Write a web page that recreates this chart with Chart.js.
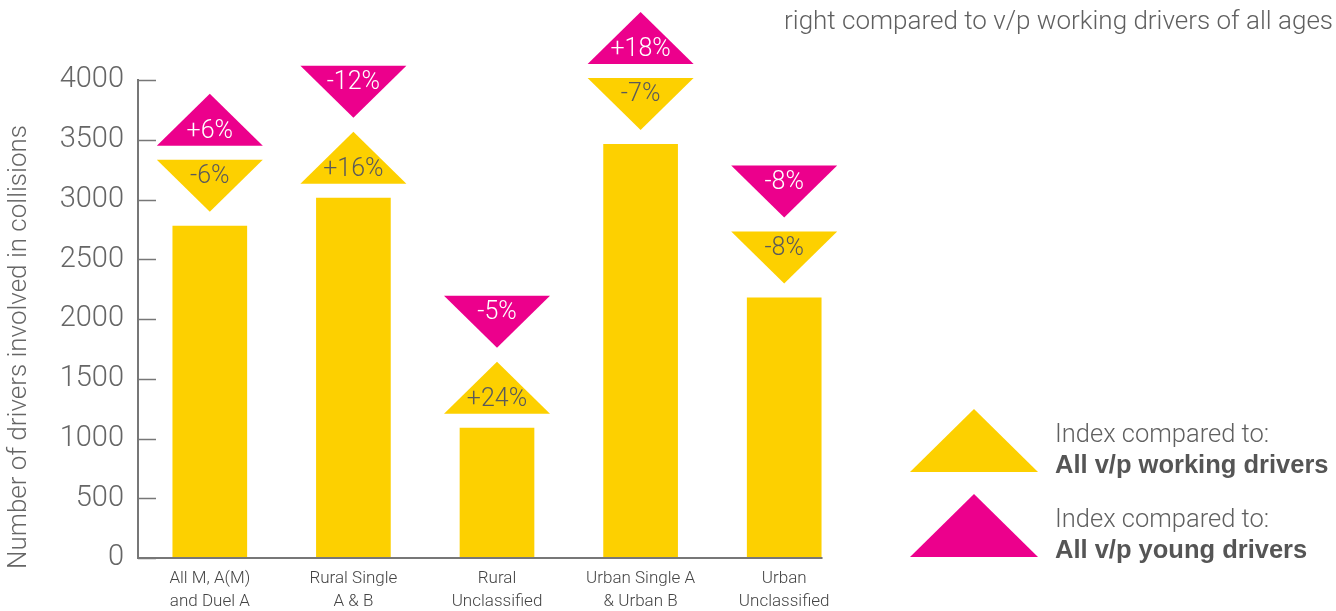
<!DOCTYPE html>
<html>
<head>
<meta charset="utf-8">
<script src="https://cdn.jsdelivr.net/npm/chart.js@4/dist/chart.umd.min.js"></script>
<style>
  html, body { margin: 0; padding: 0; background: #fff; }
  #wrap { position: relative; width: 1336px; height: 611px; }
  canvas { display: block; }
</style>
</head>
<body>
<div id="wrap"><canvas id="c" width="1336" height="611"></canvas></div>
<script>
// ---- Data ----
const categories = [
  ["All M, A(M)", "and Duel A"],
  ["Rural Single", "A & B"],
  ["Rural", "Unclassified"],
  ["Urban Single A", "& Urban B"],
  ["Urban", "Unclassified"]
];
const driverCounts = [2780, 3015, 1090, 3465, 2180];
const indexVsWorking = [-6, 16, 24, -7, -8];
const indexVsYoung = [6, -12, -5, 18, -8];
const yTicks = [0, 500, 1000, 1500, 2000, 2500, 3000, 3500, 4000];
const yAxisTitle = "Number of drivers involved in collisions";
const topNote = "right compared to v/p working drivers of all ages";
const legendItems = [
  { line1: "Index compared to:", line2: "All v/p working drivers" },
  { line1: "Index compared to:", line2: "All v/p young drivers" }
];

const YELLOW = "#FDD000";
const PINK = "#EC008C";
const GREY = "#666666";
const LIGHT = "300";
const FONT = "Roboto, 'Liberation Sans', Arial, sans-serif";
const BOLDFONT = "'Liberation Sans', Arial, sans-serif";

function tri(ctx, cx, top, w, h, up, color) {
  ctx.beginPath();
  if (up) {
    ctx.moveTo(cx, top);
    ctx.lineTo(cx + w / 2, top + h);
    ctx.lineTo(cx - w / 2, top + h);
  } else {
    ctx.moveTo(cx - w / 2, top);
    ctx.lineTo(cx + w / 2, top);
    ctx.lineTo(cx, top + h);
  }
  ctx.closePath();
  ctx.fillStyle = color;
  ctx.fill();
}

function fmt(v) { return (v > 0 ? "+" : "") + v + "%"; }

const decor = {
  id: "decor",
  afterDraw(chart) {
    const ctx = chart.ctx;
    const y = chart.scales.y;
    const area = chart.chartArea;
    const meta = chart.getDatasetMeta(0);
    ctx.save();

    // inward ticks on y axis
    ctx.strokeStyle = "#777";
    ctx.lineWidth = 1.5;
    yTicks.forEach(v => {
      const py = Math.round(y.getPixelForValue(v)) + 0.5;
      ctx.beginPath();
      ctx.moveTo(area.left, py);
      ctx.lineTo(area.left + 18, py);
      ctx.stroke();
    });

    // x baseline to end of last bar
    const last = meta.data[meta.data.length - 1];
    const by = y.getPixelForValue(0);
    ctx.lineWidth = 2;
    ctx.beginPath();
    ctx.moveTo(area.left, by);
    ctx.lineTo(last.x + last.width / 2 + 1, by);
    ctx.stroke();

    // y axis title
    ctx.save();
    ctx.translate(19, 347);
    ctx.rotate(-Math.PI / 2);
    ctx.fillStyle = GREY;
    ctx.font = LIGHT + " 26px " + FONT;
    ctx.textAlign = "center";
    ctx.textBaseline = "middle";
    ctx.fillText(yAxisTitle, 0, 0);
    ctx.restore();

    // index triangles above bars
    const W = 106, H = 52, GAP = 14;
    meta.data.forEach((bar, i) => {
      const cx = bar.x;
      let bottom = bar.y - GAP;
      const items = [
        { v: indexVsWorking[i], color: YELLOW, text: "#5a5a5a" },
        { v: indexVsYoung[i], color: PINK, text: "#ffffff" }
      ];
      items.forEach(it => {
        const top = bottom - H;
        const up = it.v > 0;
        tri(ctx, cx, top, W, H, up, it.color);
        ctx.fillStyle = it.text;
        ctx.font = LIGHT + " 25px " + FONT;
        ctx.textAlign = "center";
        ctx.textBaseline = "middle";
        ctx.fillText(fmt(it.v), cx, up ? top + H - 14 : top + 17);
        bottom = top - GAP;
      });
    });

    // legend
    const legColors = [YELLOW, PINK];
    const legTops = [409, 494];
    legendItems.forEach((it, k) => {
      tri(ctx, 974, legTops[k], 128, 63, true, legColors[k]);
      ctx.textAlign = "left";
      ctx.textBaseline = "middle";
      ctx.fillStyle = "#606060";
      ctx.font = LIGHT + " 25.5px " + FONT;
      ctx.fillText(it.line1, 1055, legTops[k] + 27);
      ctx.font = "bold 25.5px " + BOLDFONT;
      ctx.fillStyle = "#555555";
      ctx.fillText(it.line2, 1055, legTops[k] + 57);
    });

    // top note
    ctx.textAlign = "right";
    ctx.textBaseline = "middle";
    ctx.fillStyle = "#606060";
    ctx.font = LIGHT + " 26px " + FONT;
    ctx.fillText(topNote, 1333, 22);

    ctx.restore();
  }
};

new Chart(document.getElementById("c"), {
  type: "bar",
  data: {
    labels: categories,
    datasets: [{
      data: driverCounts,
      backgroundColor: YELLOW,
      borderWidth: 0,
      categoryPercentage: 1,
      barPercentage: 0.52
    }]
  },
  options: {
    responsive: false,
    animation: false,
    layout: { padding: { top: 80, right: 480, left: 0, bottom: 0 } },
    plugins: { legend: { display: false }, tooltip: { enabled: false } },
    scales: {
      x: {
        grid: { display: false, drawTicks: false },
        border: { display: false },
        ticks: {
          color: "#444",
          padding: 10,
          font: { family: FONT, size: 17, weight: LIGHT, lineHeight: 1.32 },
          maxRotation: 0, autoSkip: false
        },
        afterFit(s) { s.height = 53; }
      },
      y: {
        min: 0, max: 4000,
        afterBuildTicks(s) { s.ticks = yTicks.map(v => ({ value: v })); },
        grid: { display: false, drawTicks: false },
        border: { display: true, color: "#777", width: 2 },
        ticks: {
          color: GREY,
          padding: 14,
          callback: v => String(v),
          font: { family: FONT, size: 29, weight: LIGHT }
        },
        afterFit(s) { s.width = 138; }
      }
    }
  },
  plugins: [decor]
});
</script>
</body>
</html>
